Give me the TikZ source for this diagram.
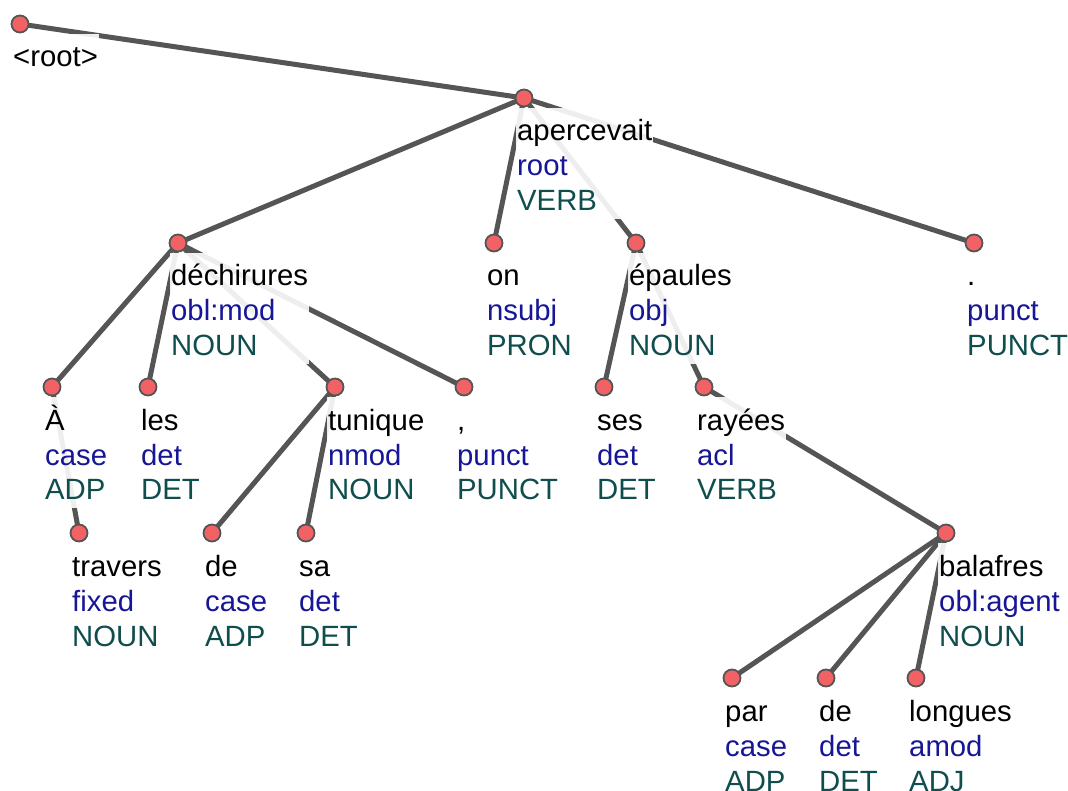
\documentclass[tikz,border=0pt]{standalone}
\usepackage{fontspec}
\setmainfont{Liberation Sans}
\definecolor{relc}{RGB}{22,22,150}
\definecolor{posc}{RGB}{16,78,78}
\definecolor{edgec}{RGB}{85,85,85}
\definecolor{dotc}{RGB}{242,98,100}
\pgfdeclarelayer{bg}
\pgfdeclarelayer{fg}
\pgfsetlayers{bg,main,fg}
\newcommand\deptok[6]{%
  \begin{pgfonlayer}{fg}
    \node[dot] (#1) at (#2,#3) {};
  \end{pgfonlayer}
  \node[lab, anchor=base west] (#1-lab) at ({#2-8},{#3+43})
    {\vtop{\hbox{\vrule height 33pt depth 0pt width 0pt #4}%
           \hbox{\color{relc}#5}%
           \hbox{\vrule height 0pt depth 8pt width 0pt\color{posc}#6}}};
}
\begin{document}
\begin{tikzpicture}[x=1pt,y=-1pt,
  dot/.style={circle, fill=dotc, draw=edgec, line width=1.8pt, minimum size=17pt, inner sep=0pt},
  lab/.style={fill=white, fill opacity=0.9, text opacity=1, inner xsep=1pt, inner ysep=0pt,
              font=\fontsize{29.3}{35}\selectfont},
  dep/.style={draw=edgec, line width=5pt}]
\useasboundingbox (0,0) rectangle (1068,791);
\begin{pgfonlayer}{fg}
  \node[dot] (root) at (20,24) {};
\end{pgfonlayer}
\node[lab, anchor=base west] (root-lab) at (12,67)
  {\hbox{\vrule height 33pt depth 8pt width 0pt <root>}};
\deptok{ap}{524}{98}{apercevait}{root}{VERB}
\deptok{dech}{178}{243}{déchirures}{obl:mod}{NOUN}
\deptok{on}{494}{243}{on}{nsubj}{PRON}
\deptok{ep}{636}{243}{épaules}{obj}{NOUN}
\deptok{pt}{974}{243}{.}{punct}{PUNCT}
\deptok{A}{52}{387}{À}{case}{ADP}
\deptok{les}{148}{387}{les}{det}{DET}
\deptok{tun}{335}{387}{tunique}{nmod}{NOUN}
\deptok{cm}{464}{387}{,}{punct}{PUNCT}
\deptok{ses}{604}{387}{ses}{det}{DET}
\deptok{ray}{704}{387}{rayées}{acl}{VERB}
\deptok{tra}{79}{533}{travers}{fixed}{NOUN}
\deptok{deA}{212}{533}{de}{case}{ADP}
\deptok{sa}{306}{533}{sa}{det}{DET}
\deptok{bal}{946}{533}{balafres}{obl:agent}{NOUN}
\deptok{par}{732}{678}{par}{case}{ADP}
\deptok{deB}{826}{678}{de}{det}{DET}
\deptok{lon}{916}{678}{longues}{amod}{ADJ}
\begin{pgfonlayer}{bg}
  \foreach \p/\c in {root/ap, ap/dech, ap/on, ap/ep, ap/pt, dech/A, dech/les, dech/tun,
                     dech/cm, A/tra, tun/deA, tun/sa, ep/ses, ep/ray, ray/bal,
                     bal/par, bal/deB, bal/lon}
    \draw[dep] (\p.center) -- (\c.center);
\end{pgfonlayer}
\end{tikzpicture}
\end{document}
